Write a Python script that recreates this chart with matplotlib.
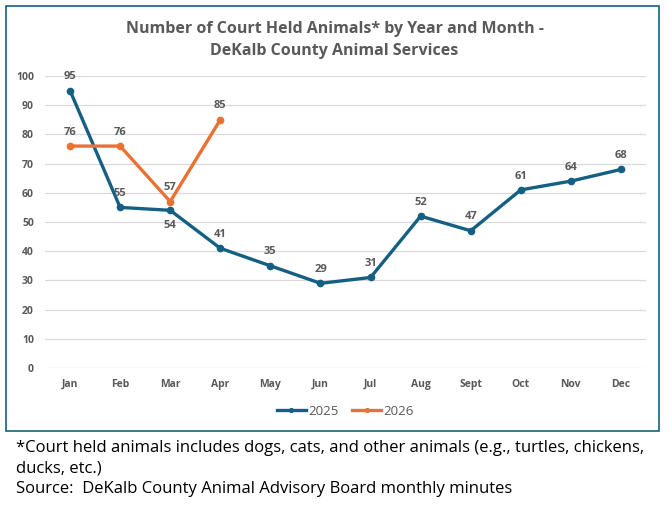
import matplotlib.pyplot as plt
from matplotlib.patches import Rectangle

months = ['Jan', 'Feb', 'Mar', 'Apr', 'May', 'Jun', 'Jul', 'Aug', 'Sept', 'Oct', 'Nov', 'Dec']
counts_2025 = [95, 55, 54, 41, 35, 29, 31, 52, 47, 61, 64, 68]
counts_2026 = [76, 76, 57, 85]
yticks = [0, 10, 20, 30, 40, 50, 60, 70, 80, 90, 100]

blue = '#156082'
orange = '#E97132'
grey = '#595959'

plt.rcParams['font.family'] = ['Open Sans', 'DejaVu Sans']

fig = plt.figure(figsize=(6.69, 5.08), dpi=100)
ax = fig.add_axes([45 / 669, 140 / 508, 601 / 669, 292 / 508])

x25 = list(range(len(counts_2025)))
x26 = list(range(len(counts_2026)))
ax.plot(x25, counts_2025, color=blue, lw=2.4, marker='o', ms=4.5, label='2025', zorder=3)
ax.plot(x26, counts_2026, color=orange, lw=2.4, marker='o', ms=4.5, label='2026', zorder=3)

# data labels (Mar 2025 sits below its point)
for i, v in enumerate(counts_2025):
    off = -7 if i == 2 else 6
    ax.annotate(str(v), (i, v), xytext=(0, off), textcoords='offset points',
                ha='center', va='bottom' if off > 0 else 'top',
                fontsize=8, fontweight='bold', color=grey)
for i, v in enumerate(counts_2026):
    ax.annotate(str(v), (i, v), xytext=(0, 6), textcoords='offset points',
                ha='center', va='bottom', fontsize=8, fontweight='bold', color=grey)

ax.set_xlim(-0.5, len(months) - 0.5)
ax.set_ylim(0, 100)
ax.set_yticks(yticks)
ax.set_xticks(x25)
ax.set_xticklabels(months)
ax.grid(axis='y', color='#D9D9D9', lw=0.9)
ax.set_axisbelow(True)
for s in ax.spines.values():
    s.set_visible(False)
ax.tick_params(length=0, labelsize=7.5, labelcolor=grey, pad=8)
for t in ax.get_xticklabels() + ax.get_yticklabels():
    t.set_fontweight('bold')

ax.legend(loc='upper center', bbox_to_anchor=(0.5, -0.085), ncol=2, frameon=False,
          fontsize=9.5, labelcolor=grey, handlelength=2.2, handletextpad=0.2,
          columnspacing=1.0, markerscale=0.6)

fig.text(0.5, 1 - 40 / 508, 'Number of Court Held Animals* by Year and Month -\nDeKalb County Animal Services',
         ha='center', va='center', fontsize=11.5, fontweight='bold', color=grey, linespacing=1.5)

# outer chart border
fig.patches.append(Rectangle((6 / 669, 1 - 431 / 508), 653 / 669, 425 / 508,
                             transform=fig.transFigure, fill=False, ec=blue, lw=1.2))

fig.text(16 / 669, 1 - 440 / 508,
         '*Court held animals includes dogs, cats, and other animals (e.g., turtles, chickens,\n'
         'ducks, etc.)\nSource:  DeKalb County Animal Advisory Board monthly minutes',
         ha='left', va='top', fontsize=12, color='black', linespacing=1.36)

fig.savefig('out.png', dpi=100)
